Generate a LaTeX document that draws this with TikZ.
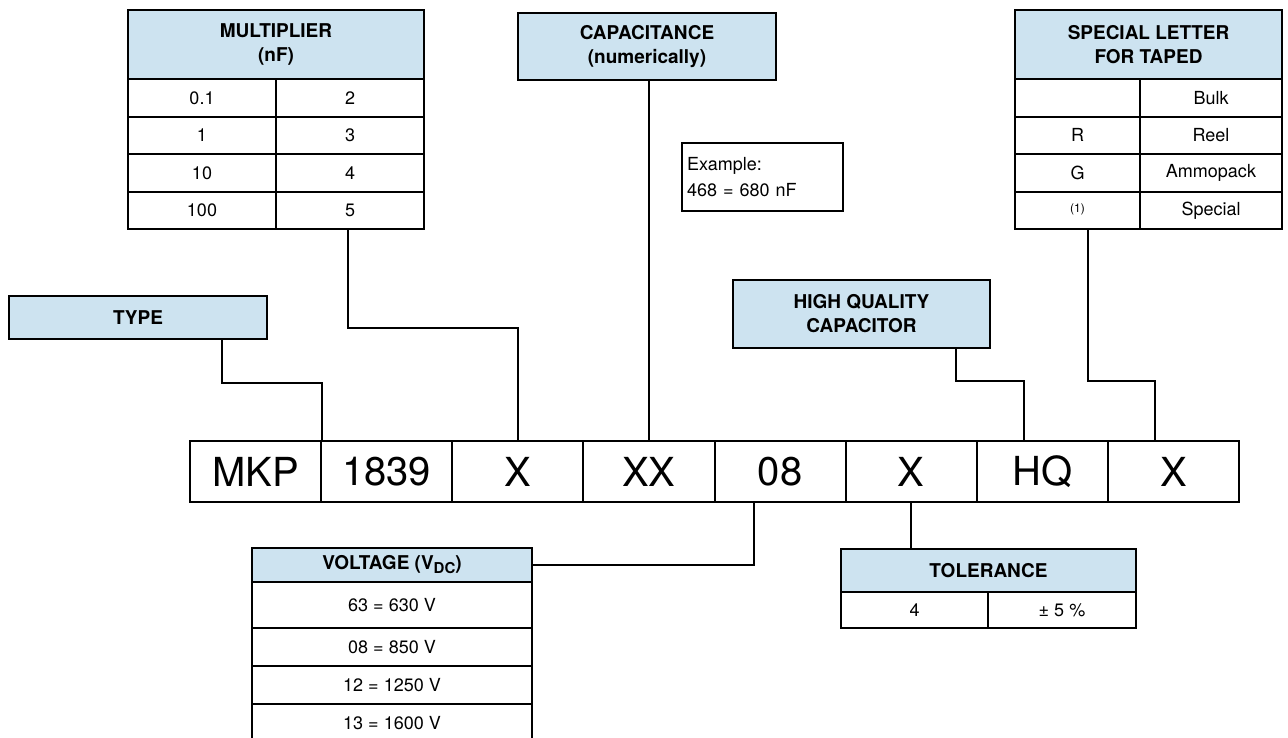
\documentclass[tikz,border=0pt]{standalone}
\usepackage{fontspec}
\setmainfont{TeX Gyre Heros}
\definecolor{hdr}{RGB}{205,227,240}
\begin{document}
\begin{tikzpicture}[x=1pt,y=-1pt,
  box/.style={draw, line width=2pt, inner sep=0pt, align=center},
  hd/.style={box, fill=hdr, font=\fontsize{19}{24}\selectfont\bfseries},
  cell/.style={box, font=\fontsize{18}{21}\selectfont},
  big/.style={box, minimum width=131.125pt, minimum height=61pt, font=\fontsize{40}{44}\selectfont},
  mlc/.style={cell, minimum width=148pt, minimum height=37.5pt},
  slc/.style={cell, minimum width=125pt, minimum height=37.5pt},
  src/.style={cell, minimum width=142pt, minimum height=37.5pt},
  vrow/.style={cell, minimum width=280pt},
  conn/.style={line width=2pt}]
\useasboundingbox (0,0) rectangle (1288,737);
\clip (0,0) rectangle (1288,737);

% MULTIPLIER table
\node[hd, minimum width=296pt, minimum height=69pt] (mh) at (276,44.5) {MULTIPLIER\\(nF)};
\node[mlc] (m1l) at (202,97.75) {0.1};
\node[mlc] (m1r) at (350,97.75) {2};
\node[mlc] (m2l) at (202,135.25) {1};
\node[mlc] (m2r) at (350,135.25) {3};
\node[mlc] (m3l) at (202,172.75) {10};
\node[mlc] (m3r) at (350,172.75) {4};
\node[mlc] (m4l) at (202,210.25) {100};
\node[mlc] (m4r) at (350,210.25) {5};

% CAPACITANCE
\node[hd, minimum width=258pt, minimum height=67pt] (cap) at (647,46.5) {CAPACITANCE\\(numerically)};

% Example
\node[box, minimum width=161pt, minimum height=68pt, text width=151pt, align=left,
      font=\fontsize{18}{26}\selectfont] (ex) at (762.5,177) {Example:\\468 = 680 nF};

% SPECIAL LETTER table
\node[hd, minimum width=267pt, minimum height=69pt] (sh) at (1148.5,44.5) {SPECIAL LETTER\\FOR TAPED};
\node[slc] (s1l) at (1077.5,97.75) {};
\node[src] (s1r) at (1211,97.75) {Bulk};
\node[slc] (s2l) at (1077.5,135.25) {R};
\node[src] (s2r) at (1211,135.25) {Reel};
\node[slc] (s3l) at (1077.5,172.75) {G};
\node[src] (s3r) at (1211,172.75) {Ammopack};
\node[slc] (s4l) at (1077.5,210.25) {\raisebox{4pt}{\fontsize{12}{12}\selectfont(1)}};
\node[src] (s4r) at (1211,210.25) {Special};

% TYPE and HQ
\node[hd, minimum width=258pt, minimum height=43pt] (type) at (138,317.5) {TYPE};
\node[hd, minimum width=257pt, minimum height=68pt] (hq) at (861.5,314) {HIGH QUALITY\\CAPACITOR};

% Main code boxes
\node[big] (c1) at (255.56,471.5) {MKP};
\node[big] (c2) at (386.69,471.5) {1839};
\node[big] (c3) at (517.81,471.5) {X};
\node[big] (c4) at (648.94,471.5) {XX};
\node[big] (c5) at (780.06,471.5) {08};
\node[big] (c6) at (911.19,471.5) {X};
\node[big] (c7) at (1042.31,471.5) {HQ};
\node[big] (c8) at (1173.44,471.5) {X};

% VOLTAGE table
\node[hd, minimum width=280pt, minimum height=34pt] (vh) at (392,565)
  {VOLTAGE (V\raisebox{-4pt}{\fontsize{15}{15}\selectfont DC})};
\node[vrow, minimum height=46pt] (v1) at (392,605) {63 = 630 V};
\node[vrow, minimum height=38pt] (v2) at (392,647) {08 = 850 V};
\node[vrow, minimum height=38pt] (v3) at (392,685) {12 = 1250 V};
\node[vrow, minimum height=38pt] (v4) at (392,723) {13 = 1600 V};

% TOLERANCE table
\node[hd, minimum width=295pt, minimum height=43pt] (th) at (988.5,570.5) {TOLERANCE};
\node[cell, minimum width=147pt, minimum height=36pt] (t1l) at (914.5,610) {4};
\node[cell, minimum width=148pt, minimum height=36pt] (t1r) at (1062,610) {± 5 \%};

% Connectors
\draw[conn] ([xshift=84pt]type.south) |- ([yshift=57pt]c1.north east) -- (c1.north east);
\draw[conn] ([xshift=-2pt]m4r.south) |- ([yshift=112pt]c3.north) -- (c3.north);
\draw[conn] (c4.north |- cap.south) -- (c4.north);
\draw[conn] ([xshift=94.5pt]hq.south) |- ([xshift=-18pt,yshift=59pt]c7.north) -- ([xshift=-18pt]c7.north);
\draw[conn] ([xshift=10.5pt]s4l.south) |- ([xshift=-18.4pt,yshift=59pt]c8.north) -- ([xshift=-18.4pt]c8.north);
\draw[conn] ([xshift=-26pt]c5.south) |- (vh.east);
\draw[conn] (c6.south) -- (c6.south |- th.north);
\end{tikzpicture}
\end{document}
